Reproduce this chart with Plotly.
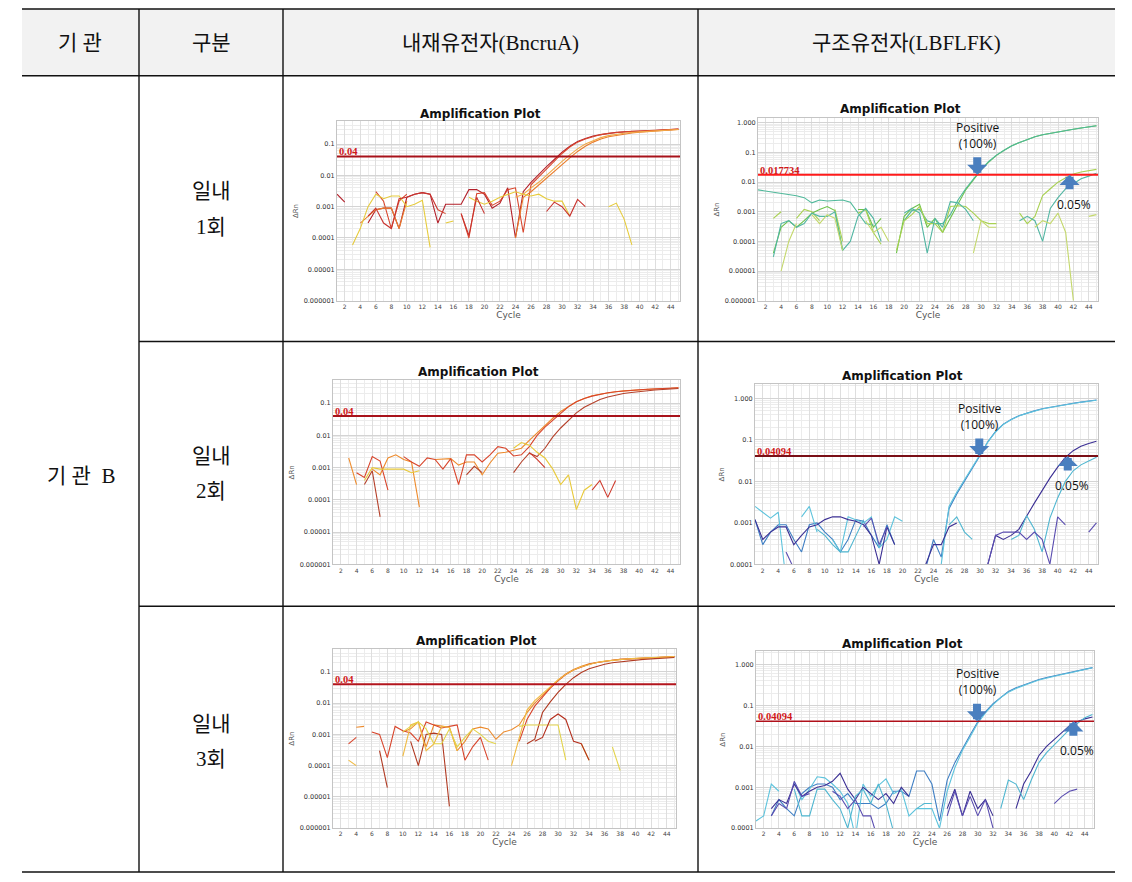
import math
import plotly.graph_objects as go

# page body keeps an 8px margin, so the figure is 16px smaller than the window
W, H = 1116, 866
OFF = 8

cycles = list(range(1, 46))

# 내재유전자(BncruA) - 일내 1회
p1_a = [0.0025, 0.0014, None, None, 0.0003, 0.0008, 0.0009, 0.0009, 0.0002, 0.002,
        0.0025, 0.0028, 0.0025, 0.0003, 0.0012, 0.0012, 0.0012, 0.0035, 0.0035, 0.0025,
        0.0009, 0.0013, 0.004, 0.0001, 0.003, 0.006, 0.011, 0.019, 0.032, 0.055,
        0.085, 0.12, 0.15, 0.18, 0.2, 0.22, 0.235, 0.245, 0.255, 0.26,
        0.265, 0.27, 0.28, 0.29, 0.3]
p1_b = [None, None, None, None, None, 0.003, 0.0015, 0.0002, 0.0015, 0.0025,
        None, None, None, 0.0008, 0.0006, None, 0.0006, 0.0001, 0.0026, 0.0028,
        0.0011, 0.0015, 0.0035, 0.004, 0.00015, 0.005, 0.009, 0.016, 0.028, 0.05,
        0.08, 0.115, 0.145, 0.175, 0.2, 0.22, 0.235, 0.245, 0.255, 0.26,
        0.265, 0.27, 0.28, 0.29, 0.3]
p1_c = [None, None, None, 0.0003, 0.0005, 0.0008, 0.0009, 0.0009, 0.0002, 0.0015,
        None, None, None, None, None, None, None, None, None, None,
        None, None, None, 0.0001, 0.002, 0.003, 0.005, 0.008, 0.013, 0.022,
        0.036, 0.058, 0.085, 0.115, 0.145, 0.17, 0.19, 0.21, 0.225, 0.24,
        0.25, 0.26, 0.27, 0.28, 0.29]
p1_d = [None, None, None, None, None, None, None, None, None, None,
        None, None, None, None, None, None, None, None, None, None,
        None, None, None, 0.002, 0.0025, 0.004, 0.006, 0.01, 0.017, 0.028,
        0.045, 0.07, 0.1, 0.13, 0.16, 0.185, 0.205, 0.22, 0.235, 0.245,
        0.255, 0.265, 0.27, 0.28, 0.29]
p1_e = [None, None, 0.00006, 0.0002, 0.001, 0.0025, 0.0018, 0.0022, 0.0022, 0.001,
        0.0012, 0.0016, 0.00005, None, 0.0003, 0.00035, None, 0.002, 0.0015, 0.0012,
        0.0015, 0.002, 0.0025, 0.003, 0.0025, 0.0022, 0.0025, 0.0018, 0.0015, 0.0015,
        0.0005, None, None, None, None, 0.001, 0.0013, 0.0004, 0.00006, None,
        None, None, None, None, None]
p1_f = [None, None, None, None, 0.0005, 0.0009, 0.0003, 0.0002, 0.0018, 0.002,
        0.0025, 0.0028, 0.0025, 0.0008, None, None, 0.0006, 0.00012, 0.002, 0.0006,
        None, None, None, None, None, None, None, 0.0007, 0.0014, 0.001,
        0.0005, 0.0017, 0.001, None, None, None, None, None, None, None,
        None, None, None, None, None]

# 구조유전자(LBFLFK) - 일내 1회
p2_a = [None, None, 0.00004, 0.0003, 0.0005, 0.0003, 0.0005, 0.0009, 0.0012, 0.0015,
        0.0011, 0.00005, None, 0.0012, 0.0012, 0.0003, 0.0006, None, 0.00004, 0.0007,
        0.0013, 0.0018, 0.0003, 0.0006, 0.0002, 0.0006, 0.002, 0.0055, 0.012, 0.026,
        0.048, 0.08, 0.12, 0.17, 0.22, 0.28, 0.34, 0.4, 0.45, 0.5,
        0.55, 0.61, 0.67, 0.73, 0.8]
p2_b = [0.0055, 0.005, 0.0045, 0.004, 0.0037, 0.0035, 0.003, 0.002, 0.0025, 0.0023,
        0.0024, 0.0025, 0.0021, 0.0009, 0.0004, 0.00035, None, None, None, 0.0005,
        0.0011, 0.0012, 0.0005, 0.0004, 0.0004, 0.0008, 0.0025, 0.006, 0.013, 0.027,
        0.05, 0.082, 0.12, 0.17, 0.22, 0.28, 0.34, 0.4, 0.45, 0.5,
        0.55, 0.61, 0.67, 0.73, 0.8]
p2_c = [None, None, 0.0006, 0.001, None, 0.0006, 0.0012, 0.001, 0.0005, None,
        0.0012, 0.0001, None, 0.0009, 0.0012, 0.0002, 0.00008, None, 0.00005, 0.0005,
        0.0008, 0.0015, 0.0004, 0.0004, 0.0002, 0.0015, 0.0016, 0.0015, 0.0009, 0.0005,
        0.0004, 0.0004, None, None, 0.0009, 0.0004, 0.0007, 0.0035, 0.006, 0.01,
        0.014, 0.019, 0.022, 0.025, 0.027]
p2_d = [None, None, 0.00003, 0.0004, 0.0005, 0.0003, 0.0004, 0.0009, 0.0007, 0.0007,
        0.001, 0.00005, 0.0001, 0.0007, 0.0013, 0.0006, 0.0001, None, None, 0.0009,
        0.0013, 0.0009, 0.00004, 0.0006, 0.0003, 0.0022, 0.002, 0.0012, 0.0005, None,
        None, None, None, None, 0.0005, 0.0007, 0.0005, 0.0001, 0.0013, 0.003,
        0.006, 0.009, 0.013, 0.016, 0.02]
p2_e = [None, None, None, 0.00001, 0.0001, 0.0004, None, 0.0008, 0.0004, 0.0008,
        0.0006, 0.00005, None, None, 0.0005, 0.0002, 0.0003, 0.0001, None, None,
        None, None, None, None, None, None, None, None, 0.00004, 0.0005,
        0.0003, 0.0003, None, None, None, None, 0.0003, 0.0005, 0.0004, 0.0009,
        0.0002, 0.000001, None, 0.0007, 0.0008]

# 내재유전자(BncruA) - 일내 2회
p3_a = [None, None, 0.002, 0.0003, None, 0.0009, 0.0006, 0.002, 0.0025, 0.0018,
        0.0015, 0.00006, None, 0.0018, 0.0019, 0.0019, 0.0012, 0.0015, 0.0015, 0.0006,
        0.0014, 0.0028, 0.003, 0.0035, 0.004, 0.007, 0.012, 0.02, 0.034, 0.055,
        0.08, 0.11, 0.14, 0.17, 0.19, 0.21, 0.225, 0.24, 0.25, 0.26,
        0.27, 0.28, 0.285, 0.29, 0.3]
p3_b = [None, None, None, 0.0007, 0.0005, 0.0022, 0.0016, 0.0002, None, 0.0022,
        0.0015, 0.0011, 0.002, 0.0018, 0.0009, 0.0019, 0.0003, 0.0025, 0.0025, 0.0015,
        0.0025, 0.0045, 0.004, 0.0023, 0.0025, 0.0045, 0.01, 0.018, 0.03, 0.05,
        0.078, 0.11, 0.14, 0.165, 0.19, 0.21, 0.225, 0.24, 0.25, 0.26,
        0.27, 0.28, 0.285, 0.29, 0.3]
p3_c = [None, None, None, None, 0.0003, 0.0008, 0.00003, None, None, None,
        None, None, None, None, None, None, None, 0.0006, 0.0011, 0.0007,
        None, None, None, 0.0007, 0.0015, 0.0028, 0.0022, 0.004, 0.009, 0.017,
        0.03, 0.05, 0.075, 0.1, 0.13, 0.155, 0.18, 0.2, 0.215, 0.23,
        0.245, 0.255, 0.265, 0.275, 0.285]
p3_d = [None, None, None, None, 0.0004, 0.001, 0.0009, 0.0009, 0.0009, 0.0009,
        0.0007, 0.0008, None, None, None, None, None, None, None, None,
        None, None, None, 0.004, 0.006, 0.005, 0.003, 0.002, 0.0009, 0.0003,
        0.0006, 0.00005, 0.0002, 0.0003, None, None, None, None, None, None,
        None, None, None, None, None]
p3_e = [None, None, None, None, None, None, None, None, None, None,
        None, None, None, None, None, None, None, None, None, None,
        None, None, None, None, None, 0.003, 0.0018, 0.001, None, None,
        None, None, None, 0.0002, 0.0004, 0.00012, 0.0004, None, None, None,
        None, None, None, None, None]

# 구조유전자(LBFLFK) - 일내 2회
p4_a = [0.0012, 0.0003, 0.0006, 0.0009, 0.0009, 0.0004, 0.0002, 0.0009, 0.001, 0.0006,
        0.0004, 0.0002, 0.0004, 0.0012, 0.0011, 0.0005, 0.00025, 0.0009, 0.0003, None,
        None, None, 0.00008, 0.0004, 0.00015, 0.0022, 0.005, 0.01, 0.02, 0.042,
        0.09, 0.16, 0.24, 0.31, 0.38, 0.44, 0.5, 0.56, 0.61, 0.66,
        0.71, 0.76, 0.81, 0.86, 0.91]
p4_b = [0.0025, 0.0018, 0.0013, 0.0018, 0.00004, None, 0.0014, 0.0025, 0.0006, None,
        0.0004, 0.0002, 0.0014, 0.0012, 0.001, 0.0014, 0.00025, 0.0004, 0.0014, 0.0011,
        None, None, None, None, 0.0001, 0.0025, 0.0055, 0.011, 0.021, 0.043,
        0.088, 0.155, 0.235, 0.305, 0.375, 0.435, 0.495, 0.555, 0.605, 0.655,
        0.705, 0.755, 0.805, 0.855, 0.9]
p4_c = [0.0012, 0.0004, 0.0006, 0.0008, 0.0008, 0.0003, 0.0005, 0.0008, 0.0009, 0.0012,
        0.0014, 0.0014, 0.0012, 0.0011, 0.0009, 0.0005, 0.0001, 0.0008, 0.0003, None,
        None, None, 0.0001, 0.0003, 0.0003, 0.0008, 0.001, None, None, None,
        0.0001, 0.0005, 0.0004, 0.0005, 0.0007, 0.0015, 0.003, 0.006, 0.012, 0.022,
        0.038, 0.055, 0.07, 0.082, 0.093]
p4_d = [None, None, None, None, None, None, 0.0002, None, 0.0007, 0.0005,
        0.0003, 0.0002, 0.0002, 0.0005, 0.0012, None, None, None, None, None,
        None, None, None, None, None, 0.0009, 0.0014, 0.0006, 0.0004, None,
        None, None, None, 0.0004, 0.0005, 0.0015, 0.0007, 0.0002, 0.0013, 0.004,
        0.01, 0.018, 0.025, 0.031, 0.038]
p4_e = [None, None, None, None, 0.0002, 0.00008, None, None, None, None,
        None, None, None, None, 0.0008, 0.0013, 0.0003, 0.0008, None, None,
        None, None, None, None, None, None, None, None, None, None,
        0.0001, 0.0005, 0.0006, 0.0006, 0.0006, 0.0004, 0.0006, 0.0004, 0.0001, 0.0014,
        0.0009, None, None, 0.0006, 0.001]

# 내재유전자(BncruA) - 일내 3회
p5_a = [None, None, None, 0.0017, 0.0018, None, None, None, None, 0.0012,
        0.0015, 0.0025, 0.0004, 0.002, 0.0018, 0.0017, 0.0003, 0.0006, 0.0015, 0.0017,
        0.0015, 0.0007, 0.0012, 0.0014, 0.002, 0.005, 0.01, 0.018, 0.032, 0.055,
        0.085, 0.12, 0.15, 0.18, 0.2, 0.22, 0.235, 0.25, 0.26, 0.27,
        0.28, 0.285, 0.29, 0.3, 0.31]
p5_b = [None, None, 0.0005, 0.0008, None, 0.0012, 0.001, 0.00018, 0.0018, 0.0013,
        0.0011, 0.0006, 0.0025, 0.002, 0.0016, 0.0018, 0.002, 0.00015, 0.0004, 0.0008,
        0.00015, None, None, None, 0.0006, 0.003, 0.008, 0.016, 0.03, 0.052,
        0.082, 0.115, 0.145, 0.175, 0.2, 0.22, 0.235, 0.25, 0.26, 0.27,
        0.28, 0.285, 0.29, 0.3, 0.31]
p5_c = [None, None, None, None, None, None, 0.0003, 0.00002, None, None,
        0.0006, 0.0001, 0.001, 0.0011, 0.001, 0.000005, None, None, None, None,
        None, None, None, None, None, 0.0005, 0.0007, 0.005, 0.011, 0.022,
        0.04, 0.065, 0.095, 0.125, 0.15, 0.175, 0.195, 0.21, 0.225, 0.24,
        0.25, 0.26, 0.27, 0.28, 0.29]
p5_d = [None, None, 0.00015, 0.0001, None, None, None, None, None, 0.0002,
        0.002, 0.0025, 0.0003, 0.0005, 0.0018, 0.0017, 0.0003, None, None, None,
        None, None, None, 0.0001, 0.0008, 0.006, 0.012, 0.02, 0.034, 0.055,
        0.083, 0.115, 0.145, 0.175, 0.2, 0.22, 0.235, 0.25, 0.26, 0.27,
        0.28, 0.285, 0.29, 0.3, 0.31]
p5_e = [None, None, None, None, None, None, None, None, None, 0.0012,
        0.0018, 0.0025, 0.0015, 0.0005, 0.0005, 0.0015, 0.0004, 0.0008, 0.0015, 0.001,
        0.0006, 0.0005, None, None, 0.0018, 0.002, 0.002, 0.002, 0.002, 0.002,
        0.00015, None, 0.0005, 0.00015, None, None, 0.0004, 0.00007, None, None,
        None, None, None, None, None]
p5_f = [None, None, None, None, None, None, None, None, None, None,
        None, None, None, None, None, None, None, None, None, None,
        None, None, None, None, None, None, 0.0006, 0.0008, 0.003, 0.0045,
        0.003, 0.0006, 0.0005, 0.00015, None, None, None, None, None, None,
        None, None, None, None, None]

# 구조유전자(LBFLFK) - 일내 3회
p6_a = [None, None, 0.0002, 0.0005, 0.0003, 0.0002, 0.0007, 0.001, 0.0012, 0.0012,
        0.001, 0.0005, 0.0007, 0.0004, 0.0004, 0.0004, 0.0003, 0.0004, 0.0008, 0.0008,
        0.0006, 0.0025, 0.0025, 0.0012, 0.00015, 0.0015, 0.004, 0.009, 0.019, 0.04,
        0.07, 0.11, 0.16, 0.22, 0.27, 0.32, 0.37, 0.43, 0.48, 0.53,
        0.58, 0.63, 0.7, 0.77, 0.84]
p6_b = [0.00015, 0.0002, 0.0012, 0.0008, None, 0.0013, 0.0005, 0.0009, 0.0018, 0.0017,
        0.0012, 0.0008, 0.0004, 0.00006, 0.0012, 0.0006, 0.0011, 0.0016, 0.0007, 0.0009,
        0.0002, 0.0003, 0.0003, 0.0003, 0.0001, 0.0008, 0.003, 0.008, 0.017, 0.037,
        0.066, 0.105, 0.155, 0.21, 0.26, 0.31, 0.36, 0.42, 0.47, 0.52,
        0.57, 0.62, 0.69, 0.76, 0.83]
p6_c = [None, None, 0.0003, 0.0005, 0.0004, 0.0012, 0.0006, 0.0008, 0.001, 0.0011,
        0.0014, 0.0022, 0.0009, 0.0005, 0.001, 0.0007, 0.0005, 0.0007, 0.0004, 0.001,
        0.0006, None, None, None, None, 0.0003, 0.0009, 0.0002, 0.0008, 0.0003,
        0.0005, 0.0002, None, None, 0.0003, 0.0012, 0.0025, 0.006, 0.01, 0.015,
        0.022, 0.032, 0.04, 0.047, 0.052]
p6_d = [None, None, None, None, None, 0.0009, 0.0002, 0.0002, 0.0009, 0.0009,
        0.0005, 0.0003, 0.0001, 0.0006, 0.0009, 0.0004, 0.0012, 0.0004, 0.00008, None,
        None, 0.0003, 0.0004, 0.0004, None, None, None, None, None, None,
        None, None, 0.0003, 0.0015, 0.0012, 0.0005, 0.0015, 0.004, 0.007, 0.011,
        0.017, 0.026, 0.036, 0.05, 0.06]
p6_e = [None, None, 0.0002, 0.0004, 0.0003, 0.0014, 0.0006, 0.0007, None, None,
        0.0008, 0.0006, 0.0003, 0.0005, 0.0002, 0.0002, 0.00005, None, None, None,
        None, None, None, None, None, 0.0002, 0.0008, 0.0002, 0.0006, 0.0002,
        0.0005, 0.0001, None, None, None, None, 0.0004, None, None, 0.0004,
        0.0006, 0.0008, 0.0009, None, None]

thresholds = [0.04, 0.017734, 0.04, 0.04094, 0.04, 0.04094]
threshold_labels = ["0.04", "0.017734", "0.04", "0.04094", "0.04", "0.04094"]
positive_ct = [29.5, 29.9, 29.9]
low_ct = [41.5, 41.3, 42.5]

ticks6 = [1e-6, 1e-5, 1e-4, 1e-3, 1e-2, 1e-1]
ticks6_text = ["0.000001", "0.00001", "0.0001", "0.001", "0.01", "0.1"]
ticks7 = [1e-6, 1e-5, 1e-4, 1e-3, 1e-2, 1e-1, 1]
ticks7_text = ["0.000001", "0.00001", "0.0001", "0.001", "0.01", "0.1", "1.000"]
ticks5 = [1e-4, 1e-3, 1e-2, 1e-1, 1]
ticks5_text = ["0.0001", "0.001", "0.01", "0.1", "1.000"]

header = ["기 관", "구분", "내재유전자(BncruA)", "구조유전자(LBFLFK)"]
row_labels = [("일내", "1회"), ("일내", "2회"), ("일내", "3회")]
org_label = "기 관&nbsp;&nbsp;B"

bn_colors = ["#b3202a", "#d8452c", "#ea7d2c", "#f2a948", "#e6cb3c", "#c9342f"]
bn_colors3 = ["#ee8a2a", "#d8452c", "#b5402a", "#e8c93a", "#cf3a2c"]
bn_colors5 = ["#ec8a2c", "#d8452c", "#b03a22", "#f0bb44", "#e3d34a", "#b5301e"]
lb_colors2 = ["#6cc24a", "#4fb89a", "#a9d152", "#52b6a3", "#c4d86c"]
lb_colors = ["#3f7fc4", "#5ec3dc", "#3b2f94", "#4fb6d0", "#5a4db0"]

# pixel boxes of the plot areas in window coordinates (left, top, right, bottom)
panels = [
    dict(series=[p1_a, p1_b, p1_c, p1_d, p1_e, p1_f], colors=bn_colors,
         box=(337, 122, 680, 302), yr=[-6, -0.28], tv=ticks6, tt=ticks6_text,
         thr_color="#a8121a", thr_w=2, title=(480, 114)),
    dict(series=[p2_a, p2_b, p2_c, p2_d, p2_e], colors=lb_colors2,
         box=(758, 119, 1098, 302), yr=[-6, 0.15], tv=ticks7, tt=ticks7_text,
         thr_color="#ff1a1a", thr_w=2, title=(900, 109)),
    dict(series=[p3_a, p3_b, p3_c, p3_d, p3_e], colors=bn_colors3,
         box=(333, 382, 680, 567), yr=[-6, -0.29], tv=ticks6, tt=ticks6_text,
         thr_color="#a8121a", thr_w=2, title=(478, 374)),
    dict(series=[p4_a, p4_b, p4_c, p4_d, p4_e], colors=lb_colors,
         box=(755, 386, 1098, 567), yr=[-4, 0.34], tv=ticks5, tt=ticks5_text,
         thr_color="#7a0f16", thr_w=2, title=(902, 378)),
    dict(series=[p5_a, p5_b, p5_c, p5_d, p5_e, p5_f], colors=bn_colors5,
         box=(333, 652, 676, 832), yr=[-6, -0.27], tv=ticks6, tt=ticks6_text,
         thr_color="#b3151d", thr_w=2, title=(476, 644)),
    dict(series=[p6_a, p6_b, p6_c, p6_d, p6_e], colors=lb_colors,
         box=(756, 654, 1094, 832), yr=[-4, 0.33], tv=ticks5, tt=ticks5_text,
         thr_color="#b0101a", thr_w=1.5, title=(902, 647)),
]


def px_x(v):
    return (v - OFF) / W


def px_y(v):
    return 1 - (v - OFF) / H


fig = go.Figure()
shapes = []
annotations = []
layout_axes = {}

for i, pn in enumerate(panels):
    n = i + 1
    xa = "x" if n == 1 else "x%d" % n
    ya = "y" if n == 1 else "y%d" % n
    l, t, r, b = pn["box"]
    for s, c in zip(pn["series"], pn["colors"]):
        fig.add_trace(go.Scatter(x=cycles, y=s, mode="lines", xaxis=xa, yaxis=ya,
                                 line=dict(color=c, width=1.1), showlegend=False,
                                 hoverinfo="skip", connectgaps=False))
    layout_axes["xaxis" if n == 1 else "xaxis%d" % n] = dict(
        domain=[px_x(l), px_x(r)], anchor=ya, range=[1, 45.2],
        tickmode="linear", tick0=2, dtick=2, ticks="", showline=True, mirror=True,
        linecolor="#c4c4c4", linewidth=1, showgrid=True, gridcolor="#dedede", gridwidth=1,
        minor=dict(dtick=1, showgrid=True, gridcolor="#ececec"),
        tickfont=dict(size=6, color="#444", family="DejaVu Sans"), zeroline=False,
        title=dict(text="Cycle", font=dict(size=9, color="#555", family="DejaVu Sans"),
                   standoff=1),
    )
    layout_axes["yaxis" if n == 1 else "yaxis%d" % n] = dict(
        domain=[px_y(b), px_y(t)], anchor=xa, type="log", range=pn["yr"],
        tickmode="array", tickvals=pn["tv"], ticktext=pn["tt"], ticks="",
        showline=True, mirror=True, linecolor="#c4c4c4", linewidth=1,
        showgrid=True, gridcolor="#d4d4d4",
        minor=dict(dtick="D1", showgrid=True, gridcolor="#ececec"),
        tickfont=dict(size=6.5, color="#333", family="DejaVu Sans"), zeroline=False,
        title=dict(text="ΔRn", font=dict(size=7, color="#555", family="DejaVu Sans"),
                   standoff=4),
    )
    thr = thresholds[i]
    shapes.append(dict(type="line", xref=xa + " domain", yref=ya,
                       x0=0, x1=1, y0=thr, y1=thr,
                       line=dict(color=pn["thr_color"], width=pn["thr_w"])))
    annotations.append(dict(xref=xa + " domain", yref=ya, x=0, y=math.log10(thr),
                            text="<b>%s</b>" % threshold_labels[i], showarrow=False,
                            xanchor="left", yanchor="bottom", yshift=-3,
                            font=dict(size=10.5, color="#d01818", family="Liberation Serif")))
    tx, ty = pn["title"]
    annotations.append(dict(xref="paper", yref="paper", x=px_x(tx), y=px_y(ty),
                            text="<b>Amplification Plot</b>", showarrow=False,
                            xanchor="center", yanchor="middle",
                            font=dict(size=12, color="#111", family="DejaVu Sans")))

    if n % 2 == 0:
        k = n // 2 - 1
        ly = math.log10(thr)
        note_font = dict(size=12, color="#111", family="Open Sans")
        annotations.append(dict(xref=xa, yref=ya, x=positive_ct[k], y=ly, ax=0, ay=-19,
                                showarrow=True, arrowhead=1, arrowsize=0.42,
                                arrowwidth=8, arrowcolor="#4a7fbf", text=""))
        annotations.append(dict(xref=xa, yref=ya, x=positive_ct[k], y=ly,
                                text="Positive<br>(100%)", showarrow=False,
                                xanchor="center", yanchor="bottom", yshift=21,
                                font=note_font))
        annotations.append(dict(xref=xa, yref=ya, x=low_ct[k], y=ly, ax=0, ay=16,
                                showarrow=True, arrowhead=1, arrowsize=0.42,
                                arrowwidth=8, arrowcolor="#4a7fbf", text=""))
        annotations.append(dict(xref=xa, yref=ya, x=low_ct[k], y=ly,
                                text="0.05%", showarrow=False, xanchor="center",
                                yanchor="top", yshift=-19, xshift=4, font=note_font))

# table frame
line_k = dict(color="#111", width=1.4)
shapes.insert(0, dict(type="rect", xref="paper", yref="paper", x0=px_x(22), x1=px_x(1115),
                      y0=px_y(76), y1=px_y(9), fillcolor="#f2f2f2", line=dict(width=0),
                      layer="below"))
for yy in (9, 76, 876):
    shapes.append(dict(type="line", xref="paper", yref="paper", x0=px_x(22), x1=px_x(1115),
                       y0=px_y(yy), y1=px_y(yy), line=line_k))
for yy in (343, 609):
    shapes.append(dict(type="line", xref="paper", yref="paper", x0=px_x(139), x1=px_x(1115),
                       y0=px_y(yy), y1=px_y(yy), line=line_k))
for xx in (139, 283, 698):
    shapes.append(dict(type="line", xref="paper", yref="paper", x0=px_x(xx), x1=px_x(xx),
                       y0=px_y(876), y1=px_y(9), line=line_k))

cell_font = dict(size=21, color="#111", family="Liberation Serif, Noto Sans CJK KR")
for txt, cx in zip(header, (80, 211, 490, 906)):
    annotations.append(dict(xref="paper", yref="paper", x=px_x(cx), y=px_y(43), text=txt,
                            showarrow=False, xanchor="center", yanchor="middle",
                            font=cell_font))
for (l1, l2), (y1, y2) in zip(row_labels, ((192, 228), (458, 493), (727, 762))):
    annotations.append(dict(xref="paper", yref="paper", x=px_x(211), y=px_y(y1), text=l1,
                            showarrow=False, xanchor="center", yanchor="middle",
                            font=cell_font))
    annotations.append(dict(xref="paper", yref="paper", x=px_x(211), y=px_y(y2), text=l2,
                            showarrow=False, xanchor="center", yanchor="middle",
                            font=cell_font))
annotations.append(dict(xref="paper", yref="paper", x=px_x(81), y=px_y(478), text=org_label,
                        showarrow=False, xanchor="center", yanchor="middle", font=cell_font))

fig.update_layout(
    width=W, height=H, margin=dict(l=0, r=0, t=0, b=0),
    paper_bgcolor="white", plot_bgcolor="white",
    shapes=shapes, annotations=annotations, **layout_axes,
)

fig.write_html("out.html")
